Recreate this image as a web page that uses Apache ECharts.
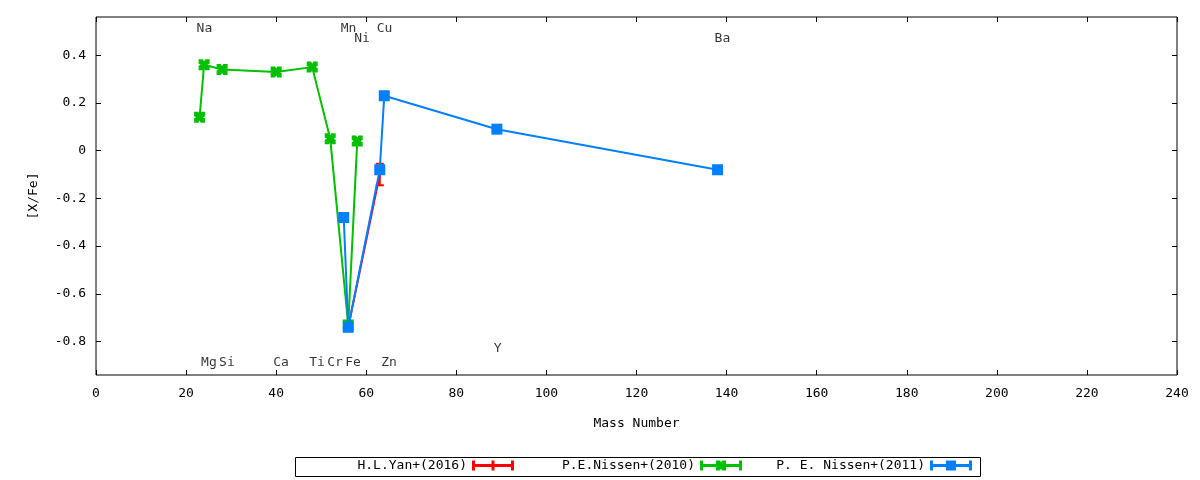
<!DOCTYPE html>
<html>
<head>
<meta charset="utf-8">
<script src="https://cdn.jsdelivr.net/npm/echarts@6/dist/echarts.min.js"></script>
<style>
	html,body{margin:0;padding:0;background:#fff;}
	#chart{width:1200px;height:480px;}
</style>
</head>
<body>
<div id="chart"></div>
<script>
	// H.L.Yan+(2016)
	var yanMass = [56, 63];
	var yanVal = [-0.74, -0.10];
	var yanErr = [0, 0.045];
	// P.E.Nissen+(2010)
	var nis10Mass = [23, 24, 28, 40, 48, 52, 56, 58];
	var nis10Val = [0.14, 0.36, 0.34, 0.33, 0.35, 0.05, -0.73, 0.04];
	// P. E. Nissen+(2011)
	var nis11Mass = [55, 56, 63, 64, 89, 138];
	var nis11Val = [-0.28, -0.74, -0.08, 0.23, 0.09, -0.08];
	// element labels
	var elemNames = ['Na','Mg','Si','Ca','Ti','Cr','Mn','Fe','Ni','Cu','Zn','Y','Ba'];
	var elemMass = [23, 24, 28, 40, 48, 52, 55, 56, 58, 63, 64, 89, 138];
	var elemY = [0.51, -0.89, -0.89, -0.89, -0.89, -0.89, 0.51, -0.89, 0.47, 0.51, -0.89, -0.83, 0.47];
	var yTicks = [-0.8, -0.6, -0.4, -0.2, 0, 0.2, 0.4];

	var RED = '#ff0000', GREEN = '#00c000', BLUE = '#0080ff';
	var FONT = 'DejaVu Sans Mono';

	function pairs(xs, ys){
		var out = [];
		for(var i = 0; i < xs.length; i++){
			out.push([xs[i], ys[i]]);
		}
		return out;
	}

	var errData = [];
	for(var i = 0; i < yanMass.length; i++){
		errData.push([yanMass[i], yanVal[i] - yanErr[i], yanVal[i] + yanErr[i]]);
	}
	var labelData = [];
	for(var j = 0; j < elemNames.length; j++){
		labelData.push([elemMass[j], elemY[j], elemNames[j]]);
	}

	var xMark = 'path://M0,0 L4,0 L5,2 L6,0 L10,0 L10,4 L8,5 L10,6 L10,10 L6,10 L5,8 L4,10 L0,10 L0,6 L2,5 L0,4 Z';
	var capLine = 'M0,0 h3 v10 h-3 z M0,3.5 h42 v3 h-42 z M39,0 h3 v10 h-3 z ';
	var iconRed = 'path://' + capLine + 'M19.5,0 h3 v10 h-3 z';
	var iconGreen = 'path://' + capLine + 'M16,0 L20,0 L21,2 L22,0 L26,0 L26,4 L24,5 L26,6 L26,10 L22,10 L21,8 L20,10 L16,10 L16,6 L18,5 L16,4 Z';
	var iconBlue = 'path://' + capLine + 'M16,0 h10 v10 h-10 z';

	function yFmt(v){
		if(Math.abs(v) < 1e-9) return '0';
		return v.toFixed(1);
	}

	var txt = {color:'#000', fontFamily:FONT, fontSize:13};

	function legendAt(name, icon, right){
		return {
			data:[{name:name, icon:icon}],
			right:right, top:459, padding:0,
			align:'right', itemWidth:42, itemHeight:10,
			textStyle:txt, selectedMode:false
		};
	}

	var noLine = {show:false, onZero:false};
	var tick = {inside:true, length:5, lineStyle:{color:'#000'}};

	var option = {
		animation:false,
		backgroundColor:'#fff',
		grid:{left:96, top:17, right:23, bottom:105, show:true, borderColor:'#000', borderWidth:1},
		legend:[
			legendAt('H.L.Yan+(2016)', iconRed, 686),
			legendAt('P.E.Nissen+(2010)', iconGreen, 458),
			legendAt('P. E. Nissen+(2011)', iconBlue, 228)
		],
		graphic:[{
			type:'rect', left:293, top:455,
			shape:{width:685, height:19},
			style:{fill:'none', stroke:'#000', lineWidth:1}, silent:true
		}],
		xAxis:[{
			type:'value', min:0, max:240, interval:20,
			name:'Mass Number', nameLocation:'middle', nameGap:42, nameTextStyle:txt,
			axisLine:noLine, axisTick:tick,
			axisLabel:{margin:12, color:'#000', fontFamily:FONT, fontSize:13},
			splitLine:{show:false}
		},{
			type:'value', min:0, max:240, interval:20, position:'top',
			axisLine:noLine, axisTick:tick,
			axisLabel:{show:false}, splitLine:{show:false}
		}],
		yAxis:[{
			type:'value', min:-0.94, max:0.56,
			name:'[X/Fe]', nameLocation:'middle', nameRotate:90, nameGap:56, nameTextStyle:txt,
			axisLine:noLine,
			axisTick:{inside:true, length:5, customValues:yTicks, lineStyle:{color:'#000'}},
			axisLabel:{margin:10, customValues:yTicks, formatter:yFmt, color:'#000', fontFamily:FONT, fontSize:13},
			splitLine:{show:false}
		},{
			type:'value', min:-0.94, max:0.56, position:'right',
			axisLine:noLine,
			axisTick:{inside:true, length:5, customValues:yTicks, lineStyle:{color:'#000'}},
			axisLabel:{show:false, customValues:yTicks}, splitLine:{show:false}
		}],
		series:[
			{
				name:'H.L.Yan+(2016)', type:'line', data:pairs(yanMass, yanVal),
				symbol:'none', lineStyle:{color:RED, width:2}, itemStyle:{color:RED}, z:2
			},
			{
				name:'yanErr', type:'custom', data:errData, encode:{x:0, y:[1,2]}, z:2,
				renderItem:function(params, api){
					var x = api.value(0);
					var lo = api.coord([x, api.value(1)]);
					var hi = api.coord([x, api.value(2)]);
					var st = {stroke:RED, lineWidth:2};
					return {type:'group', children:[
						{type:'line', shape:{x1:lo[0], y1:lo[1], x2:hi[0], y2:hi[1]}, style:st},
						{type:'line', shape:{x1:lo[0]-4, y1:lo[1], x2:lo[0]+4, y2:lo[1]}, style:st},
						{type:'line', shape:{x1:hi[0]-4, y1:hi[1], x2:hi[0]+4, y2:hi[1]}, style:st}
					]};
				}
			},
			{
				name:'P.E.Nissen+(2010)', type:'line', data:pairs(nis10Mass, nis10Val),
				symbol:xMark, symbolSize:11, showAllSymbol:true,
				lineStyle:{color:GREEN, width:2}, itemStyle:{color:GREEN}, z:3
			},
			{
				name:'P. E. Nissen+(2011)', type:'line', data:pairs(nis11Mass, nis11Val),
				symbol:'rect', symbolSize:11, showAllSymbol:true,
				lineStyle:{color:BLUE, width:2}, itemStyle:{color:BLUE}, z:4
			},
			{
				name:'labels', type:'scatter', data:labelData, symbolSize:0, silent:true, z:5,
				label:{
					show:true, position:[-3, 0], align:'left', verticalAlign:'middle',
					color:'#000', fontFamily:FONT, fontSize:13,
					formatter:function(p){ return p.data[2]; }
				}
			}
		]
	};
	echarts.init(document.getElementById('chart')).setOption(option);
</script>
</body>
</html>
